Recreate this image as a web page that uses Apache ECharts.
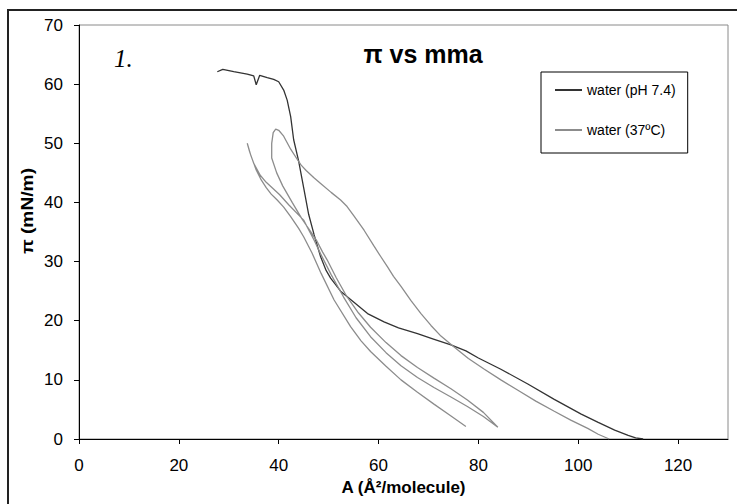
<!DOCTYPE html>
<html>
<head>
<meta charset="utf-8">
<script src="https://cdn.jsdelivr.net/npm/echarts@6/dist/echarts.min.js"></script>
<style>
  html, body { margin: 0; padding: 0; background: #fff; }
  #main { width: 737px; height: 504px; }
</style>
</head>
<body>
<div id="main"></div>
<script>
// water (pH 7.4) isotherm
var phArea = [27.7, 28.8, 31, 33.7, 35, 35.5, 36.2, 37.7, 39, 40, 41, 41.7, 42.4, 43, 44, 45, 46, 47.1, 48.4, 49.5, 50.4, 52.4, 54.4, 57.8, 61.1, 64, 67.8, 71, 74.5, 77.5, 80, 84.5, 89.9, 95.2, 100.6, 104, 107.3, 110, 111.5, 113]
var phPressure = [62.1, 62.5, 62.1, 61.7, 61.4, 59.9, 61.5, 61.1, 60.8, 60.4, 59, 57.3, 54.5, 50.6, 47, 42.5, 38, 34.5, 30.8, 28.5, 27.2, 25, 23.6, 21.2, 19.8, 18.8, 17.8, 16.9, 15.9, 14.9, 13.7, 11.8, 9.3, 6.7, 4.2, 2.8, 1.5, 0.6, 0.2, 0]

// water (37ºC) compression / expansion cycles, in drawing order
var warmArea = [
  106.2, 104, 101.9, 98.5, 95.2, 91.5, 88, 84.5, 81.2, 78, 75.2, 72.5, 70.5, 68.5, 66.5, 64.5, 63, 61.8, 60.4, 59.1, 57.1, 55.1, 53.7, 52.4, 50.5, 48.4, 47, 45.5, 44.5, 43.7, 42.4, 41, 40, 39.4,
  38.9, 38.6, 38.6, 39.6, 40.8, 42.7, 44.6, 46.3, 47.7, 48.8, 49.7, 51.5, 53.5, 56, 58.4, 61.5, 64.5, 67.8, 71.1, 74.5, 77.8, 81, 83.9,
  81, 77.8, 74.5, 71.1, 67.8, 64.5, 61.5, 58.4, 55.5, 53, 50.5, 48.4, 47.1, 45, 42, 40.2, 38.8, 37.5, 36.3, 35, 34.2, 33.7,
  34.4, 35.5, 36.5, 37.5, 38.5, 39.7, 41, 42.4, 44, 45, 46.7, 48.5, 51.1, 54.4, 56.5, 58.4, 61.5, 64.5, 67.8, 71.1, 74.3, 77.5
]
var warmPressure = [
  0, 0.8, 1.8, 3.2, 4.7, 6.4, 8.2, 10, 11.8, 13.6, 15.5, 17.4, 19.2, 21.2, 23.4, 25.8, 27.5, 29.1, 30.9, 32.6, 35.3, 37.7, 39.3, 40.4, 41.7, 43.2, 44.2, 45.4, 46.3, 47.3, 49, 51.2, 52.2, 52.4,
  51.8, 50, 47.5, 45, 42.8, 40, 37.3, 35.2, 33.4, 31.6, 30.3, 27.3, 24.3, 21.3, 18.9, 16.3, 14.1, 12.1, 10.3, 8.5, 6.6, 4.5, 2,
  3.8, 5.5, 7.1, 8.7, 10.4, 12.4, 14.6, 17.3, 20.5, 24, 27.8, 31.3, 33.6, 37, 39.6, 41.3, 42.4, 43.4, 44.6, 46.6, 48.5, 50,
  48, 45.5, 43.8, 42.5, 41.4, 40.4, 39.2, 37.6, 35.6, 34.2, 31.4, 28, 23.5, 19, 16.6, 14.8, 12.3, 10, 7.9, 5.9, 4, 2.1
]

var seriesNames = ['water (pH 7.4)', 'water (37ºC)']
var xTicks = [0, 20, 40, 60, 80, 100, 120]
var yTicks = [0, 10, 20, 30, 40, 50, 60, 70]

function pairs(xs, ys) {
  return xs.map(function (x, i) { return [x, ys[i]] })
}

var font = 'Liberation Sans, Arial, sans-serif'
var myChart = echarts.init(document.getElementById('main'), null, { renderer: 'svg' })

var option = {
  animation: false,
  backgroundColor: '#fff',
  grid: {
    left: 79,
    right: 9,
    top: 25,
    bottom: 65,
    show: true,
    borderColor: '#8a8a8a',
    borderWidth: 1
  },
  legend: {
    orient: 'vertical',
    left: 541,
    top: 72,
    itemWidth: 27,
    itemHeight: 14,
    itemGap: 26,
    padding: [11, 12, 16, 13],
    borderColor: '#000',
    borderWidth: 1,
    borderRadius: 0,
    itemStyle: { opacity: 0 },
    textStyle: { fontSize: 14, fontFamily: font, color: '#000' },
    data: seriesNames
  },
  xAxis: {
    type: 'value',
    min: 0,
    max: 130,
    interval: 20,
    axisLine: { show: true, onZero: false, lineStyle: { color: '#000', width: 1 } },
    axisTick: { show: true, length: 5, customValues: xTicks, lineStyle: { color: '#000' } },
    axisLabel: { customValues: xTicks, margin: 18, fontSize: 17, fontFamily: font, color: '#000' },
    splitLine: { show: false },
    name: 'A (Å²/molecule)',
    nameLocation: 'middle',
    nameGap: 40,
    nameTextStyle: { fontSize: 17, fontWeight: 'bold', fontFamily: font, color: '#000' }
  },
  yAxis: {
    type: 'value',
    min: 0,
    max: 70,
    interval: 10,
    axisLine: { show: true, onZero: false, lineStyle: { color: '#000', width: 1 } },
    axisTick: { show: true, length: 5, customValues: yTicks, lineStyle: { color: '#000' } },
    axisLabel: { customValues: yTicks, margin: 16, fontSize: 17, fontFamily: font, color: '#000' },
    splitLine: { show: false }
  },
  graphic: [
    {
      type: 'rect',
      shape: { x: 8, y: 10, width: 760, height: 520 },
      style: { fill: 'none', stroke: '#222', lineWidth: 2 },
      silent: true
    },
    {
      type: 'text',
      x: 423,
      y: 54,
      style: { text: 'π vs mma', fontSize: 25, fontWeight: 'bold', fontFamily: font, fill: '#000', align: 'center', verticalAlign: 'middle' }
    },
    {
      type: 'text',
      x: 114,
      y: 58,
      style: { text: '1.', fontSize: 25, fontStyle: 'italic', fontFamily: 'Liberation Serif, Times New Roman, serif', fill: '#000', align: 'left', verticalAlign: 'middle' }
    },
    {
      type: 'text',
      x: 28,
      y: 211,
      rotation: Math.PI / 2,
      scaleX: 1.2,
      style: { text: 'π (mN/m)', fontSize: 16, fontWeight: 'bold', fontFamily: font, fill: '#000', align: 'center', verticalAlign: 'middle' }
    }
  ],
  series: [
    {
      name: seriesNames[0],
      type: 'line',
      symbol: 'none',
      data: pairs(phArea, phPressure),
      lineStyle: { color: '#333', width: 1.3 },
      itemStyle: { color: '#333' }
    },
    {
      name: seriesNames[1],
      type: 'line',
      symbol: 'none',
      data: pairs(warmArea, warmPressure),
      lineStyle: { color: '#8c8c8c', width: 1.3 },
      itemStyle: { color: '#8c8c8c' }
    }
  ]
}

myChart.setOption(option)
</script>
</body>
</html>
